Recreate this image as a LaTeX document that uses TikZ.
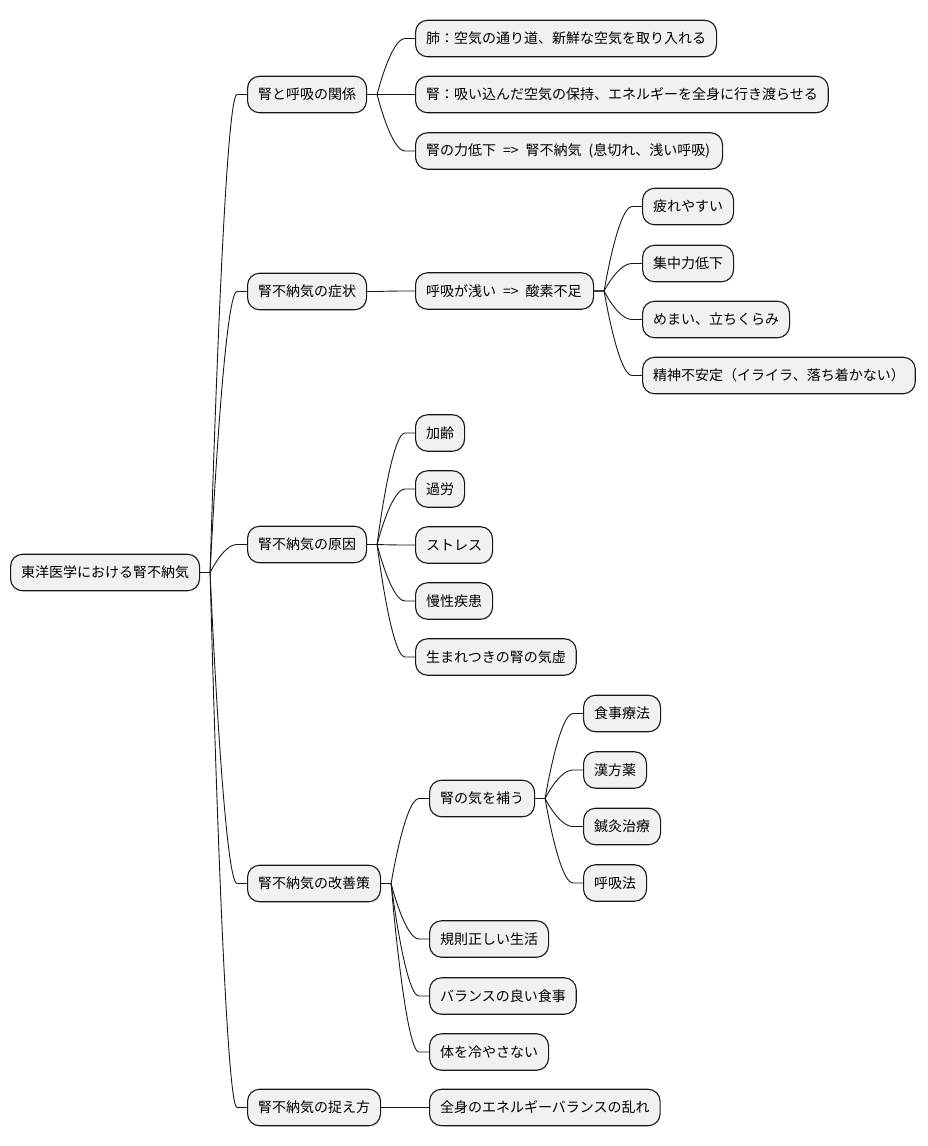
\documentclass[tikz,border=0pt]{standalone}
\usepackage{fontspec}
\setmainfont{Noto Sans CJK JP}
\usetikzlibrary{calc}
\definecolor{boxfill}{HTML}{F1F1F1}
\definecolor{ink}{HTML}{181818}
\tikzset{
  mm/.style={draw=ink, line width=1.1pt, fill=boxfill, rounded corners=12pt,
    anchor=west, inner xsep=10.5pt, inner ysep=0pt, minimum height=36.5pt,
    font=\fontsize{14pt}{16pt}\selectfont, text=black},
  link/.style={draw=ink, line width=0.9pt}
}
\newcommand\conn[2]{%
  \path (#1.east) ++(10pt,0) coordinate (s)
        (#2.west) ++(-10pt,0) coordinate (e)
        ($(s)!0.5!(e)$) coordinate (m);
  \draw[link] (#1.east) -- (s) .. controls (s) and (m |- e) .. (e) -- (#2.west);}
\begin{document}
\begin{tikzpicture}[x=1pt,y=-1pt]
\useasboundingbox (0,0) rectangle (927,1146);
\node[mm] (root) at (10,572.5) {東洋医学における腎不納気};
\node[mm] (a1) at (247,94.5) {腎と呼吸の関係};
\node[mm] (a2) at (247,291.5) {腎不納気の症状};
\node[mm] (a3) at (247,544.5) {腎不納気の原因};
\node[mm] (a4) at (247,883.5) {腎不納気の改善策};
\node[mm] (a5) at (247,1107.5) {腎不納気の捉え方};
\node[mm] (b11) at (415,38.5) {肺：空気の通り道、新鮮な空気を取り入れる};
\node[mm] (b12) at (415,94.5) {腎：吸い込んだ空気の保持、エネルギーを全身に行き渡らせる};
\node[mm, text width=286pt, align=left] (b13) at (415,151) {腎の力低下 \,=>\, 腎不納気 \,(息切れ、浅い呼吸)};
\node[mm, text width=157pt, align=left] (b21) at (415,291) {呼吸が浅い \,=>\, 酸素不足};
\node[mm] (c211) at (642,206.5) {疲れやすい};
\node[mm] (c212) at (642,263.5) {集中力低下};
\node[mm] (c213) at (642,319.5) {めまい、立ちくらみ};
\node[mm] (c214) at (642,375.5) {精神不安定（イライラ、落ち着かない）};
\node[mm] (b31) at (415,433) {加齢};
\node[mm] (b32) at (415,489) {過労};
\node[mm] (b33) at (415,545) {ストレス};
\node[mm] (b34) at (415,601) {慢性疾患};
\node[mm] (b35) at (415,657) {生まれつきの腎の気虚};
\node[mm] (b41) at (429,798.5) {腎の気を補う};
\node[mm] (c411) at (583,713.5) {食事療法};
\node[mm] (c412) at (583,770) {漢方薬};
\node[mm] (c413) at (583,826.5) {鍼灸治療};
\node[mm] (c414) at (583,883) {呼吸法};
\node[mm] (b42) at (429,939) {規則正しい生活};
\node[mm] (b43) at (429,996) {バランスの良い食事};
\node[mm] (b44) at (429,1052) {体を冷やさない};
\node[mm] (b51) at (429,1107.5) {全身のエネルギーバランスの乱れ};
\conn{root}{a1}\conn{root}{a2}\conn{root}{a3}\conn{root}{a4}\conn{root}{a5}
\conn{a1}{b11}\conn{a1}{b12}\conn{a1}{b13}
\conn{a2}{b21}
\conn{b21}{c211}\conn{b21}{c212}\conn{b21}{c213}\conn{b21}{c214}
\conn{a3}{b31}\conn{a3}{b32}\conn{a3}{b33}\conn{a3}{b34}\conn{a3}{b35}
\conn{a4}{b41}\conn{a4}{b42}\conn{a4}{b43}\conn{a4}{b44}
\conn{b41}{c411}\conn{b41}{c412}\conn{b41}{c413}\conn{b41}{c414}
\conn{a5}{b51}
\end{tikzpicture}
\end{document}
